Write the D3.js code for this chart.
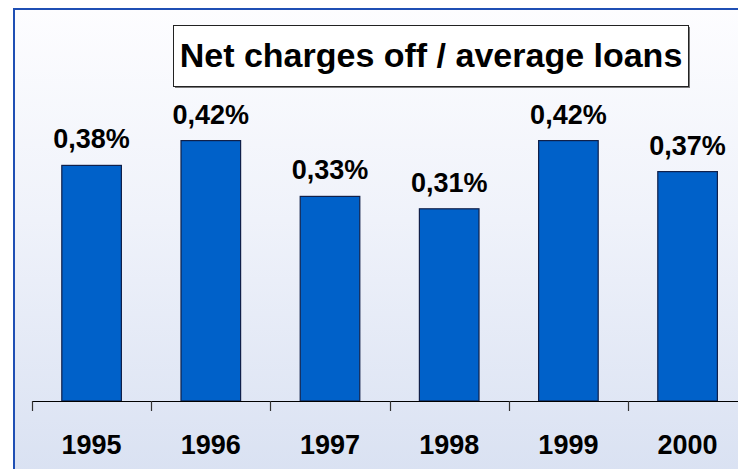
<!DOCTYPE html>
<html>
<head>
<meta charset="utf-8">
<script src="https://cdn.jsdelivr.net/npm/d3@7"></script>
<style>
  html, body { margin: 0; padding: 0; background: #ffffff; }
  svg { display: block; }
  text { font-family: "Liberation Sans", Arial, sans-serif; font-weight: bold; fill: #000; }
</style>
</head>
<body>
<svg id="chart" width="738" height="469"></svg>
<script>
// Net charge-offs as a share of average loans, by year
const years = ["1995", "1996", "1997", "1998", "1999", "2000"];
const values = [0.38, 0.42, 0.33, 0.31, 0.42, 0.37];
const valueLabels = ["0,38%", "0,42%", "0,33%", "0,31%", "0,42%", "0,37%"];
const title = "Net charges off / average loans";

const W = 738, H = 469;
const svg = d3.select("#chart");

// Panel background with a soft vertical gradient
const defs = svg.append("defs");
const grad = defs.append("linearGradient")
  .attr("id", "panelGrad").attr("x1", 0).attr("y1", 0).attr("x2", 0).attr("y2", 1);
grad.append("stop").attr("offset", "0%").attr("stop-color", "#fdfdff");
grad.append("stop").attr("offset", "45%").attr("stop-color", "#eff2fa");
grad.append("stop").attr("offset", "100%").attr("stop-color", "#d9e1f2");

svg.append("rect")
  .attr("x", 14).attr("y", 9).attr("width", W - 14 + 10).attr("height", H - 9 + 10)
  .attr("fill", "url(#panelGrad)")
  .attr("stroke", "#1f4fb4").attr("stroke-width", 2);

// Scales
const axisLeft = 32, step = 119.2;
const x = d3.scaleBand()
  .domain(years)
  .range([axisLeft, axisLeft + step * years.length])
  .paddingInner(0.5)
  .paddingOuter(0.25);

const baseY = 401;
const y = d3.scaleLinear().domain([0, 0.5]).range([baseY, baseY - 0.5 * 620]);

// Bars
svg.append("g").selectAll("rect")
  .data(years)
  .join("rect")
  .attr("x", d => x(d))
  .attr("y", (d, i) => y(values[i]))
  .attr("width", x.bandwidth())
  .attr("height", (d, i) => y(0) - y(values[i]))
  .attr("fill", "#0061c9")
  .attr("stroke", "#10204a")
  .attr("stroke-width", 1.2);

// Value labels above bars
svg.append("g").selectAll("text")
  .data(years)
  .join("text")
  .attr("x", d => x(d) + x.bandwidth() / 2)
  .attr("y", (d, i) => y(values[i]) - 17)
  .attr("text-anchor", "middle")
  .style("font-size", "27px")
  .text((d, i) => valueLabels[i]);

// Category axis: baseline with ticks between categories
const gap = (x.step() - x.bandwidth()) / 2;
const axisG = svg.append("g");
axisG.append("line")
  .attr("x1", axisLeft).attr("x2", W + 10)
  .attr("y1", baseY + 0.5).attr("y2", baseY + 0.5)
  .attr("stroke", "#000").attr("stroke-width", 1.2);
axisG.selectAll("line.tick")
  .data(years)
  .join("line")
  .attr("class", "tick")
  .attr("x1", d => Math.round(x(d) - gap) + 0.5)
  .attr("x2", d => Math.round(x(d) - gap) + 0.5)
  .attr("y1", baseY).attr("y2", baseY + 10)
  .attr("stroke", "#333").attr("stroke-width", 1.2);
axisG.selectAll("text")
  .data(years)
  .join("text")
  .attr("x", d => x(d) + x.bandwidth() / 2)
  .attr("y", 454)
  .attr("text-anchor", "middle")
  .style("font-size", "27px")
  .text(d => d);

// Title in a framed box
const box = { x: 173.5, y: 25.5, w: 515, h: 61 };
const tg = svg.append("g");
tg.append("rect")
  .attr("x", box.x + 1.5).attr("y", box.y + 1.5).attr("width", box.w).attr("height", box.h)
  .attr("fill", "#7a7a7a");
tg.append("rect")
  .attr("x", box.x).attr("y", box.y).attr("width", box.w).attr("height", box.h)
  .attr("fill", "#ffffff")
  .attr("stroke", "#222").attr("stroke-width", 1);
tg.append("text")
  .attr("x", box.x + box.w / 2).attr("y", 67)
  .attr("text-anchor", "middle")
  .style("font-size", "34px")
  .text(title);
</script>
</body>
</html>
